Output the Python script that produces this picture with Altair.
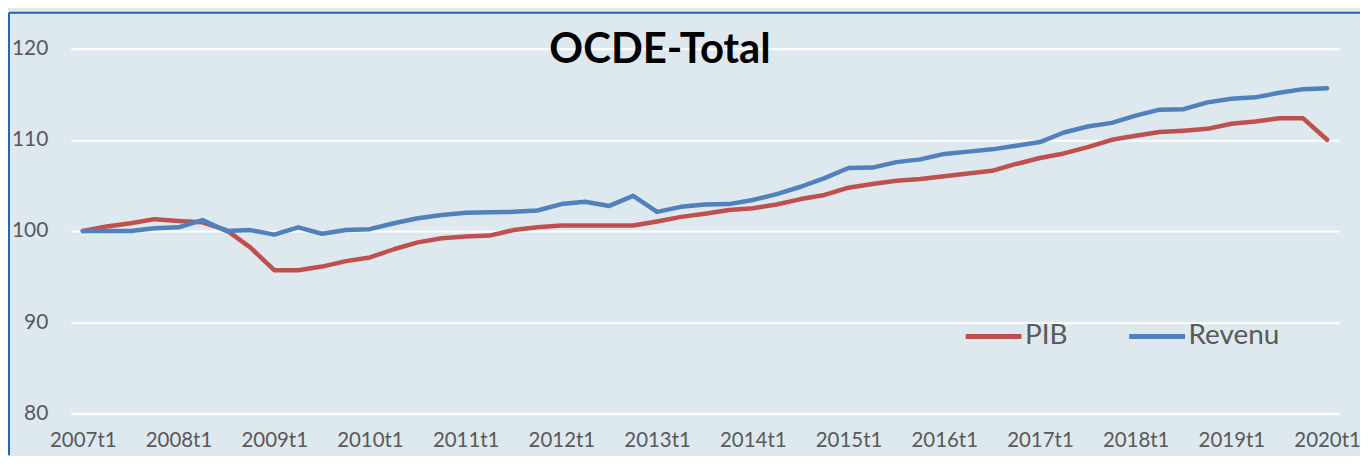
import altair as alt
import pandas as pd

# ---- data -------------------------------------------------------------
years = list(range(2007, 2021))
quarters = [f"{y}t{q}" for y in range(2007, 2020) for q in (1, 2, 3, 4)] + ["2020t1"]
year_labels = [f"{y}t1" for y in years]

pib = [100.0, 100.5, 100.85, 101.3, 101.1, 100.95, 100.1, 98.2, 95.7, 95.7,
       96.1, 96.7, 97.1, 98.0, 98.75, 99.2, 99.4, 99.5, 100.1, 100.4,
       100.6, 100.6, 100.6, 100.6, 101.05, 101.55, 101.9, 102.3, 102.5, 102.9,
       103.5, 103.95, 104.75, 105.15, 105.5, 105.7, 106.0, 106.3, 106.6, 107.35,
       108.0, 108.5, 109.2, 110.0, 110.45, 110.85, 111.0, 111.2, 111.75, 112.0,
       112.35, 112.35, 110.0]

revenu = [100.0, 100.0, 100.0, 100.3, 100.4, 101.2, 100.0, 100.1, 99.6, 100.4,
          99.7, 100.1, 100.2, 100.85, 101.4, 101.75, 102.0, 102.05, 102.1, 102.25,
          102.95, 103.2, 102.75, 103.85, 102.1, 102.65, 102.9, 102.95, 103.4, 104.05,
          104.85, 105.8, 106.9, 106.95, 107.55, 107.85, 108.45, 108.7, 108.95, 109.35,
          109.75, 110.8, 111.45, 111.85, 112.65, 113.3, 113.35, 114.1, 114.5, 114.65,
          115.15, 115.55, 115.65]

series_names = ["PIB", "Revenu"]
series_colors = ["#c0504d", "#4f81bd"]
y_ticks = [80, 90, 100, 110, 120]
title_text = "OCDE-Total"

df = pd.DataFrame({
    "trimestre": quarters * 2,
    "valeur": pib + revenu,
    "serie": ["PIB"] * len(pib) + ["Revenu"] * len(revenu),
})

FONT = "Lato"
GREY = "#595959"
W, H = 1272, 366
PAD = {"left": 63, "top": 40, "right": 21, "bottom": 42}

lines = alt.Chart(df).mark_line(strokeWidth=4.5, strokeCap="round", strokeJoin="round").encode(
    x=alt.X("trimestre:O", sort=quarters, title=None,
            scale=alt.Scale(type="point", padding=0.5),
            axis=alt.Axis(values=year_labels, labelAngle=0, ticks=False, domain=False,
                          grid=False, labelFont=FONT, labelFontSize=20.5, labelColor=GREY,
                          labelPadding=17, labelBaseline="top")),
    y=alt.Y("valeur:Q", title=None,
            scale=alt.Scale(domain=[80, 120], nice=False, zero=False),
            axis=alt.Axis(values=y_ticks, ticks=False, domain=False, grid=True,
                          gridColor="#ffffff", gridWidth=2.2,
                          labelFont=FONT, labelFontSize=21, labelColor=GREY,
                          labelPadding=23)),
    color=alt.Color("serie:N", scale=alt.Scale(domain=series_names, range=series_colors),
                    legend=alt.Legend(title=None, orient="none", legendX=895, legendY=258,
                                      direction="horizontal", symbolType="stroke",
                                      symbolSize=3136, symbolStrokeWidth=5,
                                      labelFont=FONT, labelFontSize=28, labelColor=GREY,
                                      labelOffset=1, columnPadding=51)),
)

one = alt.Data(values=[{}])

title_mark = alt.Chart(one).mark_text(
    text=title_text, font=FONT, fontSize=42, fontWeight="bold", color="#000000",
    align="center", baseline="alphabetic"
).encode(x=alt.value(591), y=alt.value(14))

border_left = alt.Chart(one).mark_rule(color="#1f67b3", strokeWidth=2).encode(
    x=alt.value(-62), y=alt.value(-36), y2=alt.value(H + PAD["bottom"]))
border_top = alt.Chart(one).mark_rule(color="#1f67b3", strokeWidth=2).encode(
    x=alt.value(-62), x2=alt.value(W + PAD["right"]), y=alt.value(-36))

chart = alt.layer(lines, title_mark, border_left, border_top).properties(
    width=W, height=H,
    autosize=alt.AutoSizeParams(type="none"),
    padding=PAD,
    background="#dee8ef",
).configure_view(strokeWidth=0)

chart.save("out.html", embed_options={"renderer": "svg", "actions": False})
